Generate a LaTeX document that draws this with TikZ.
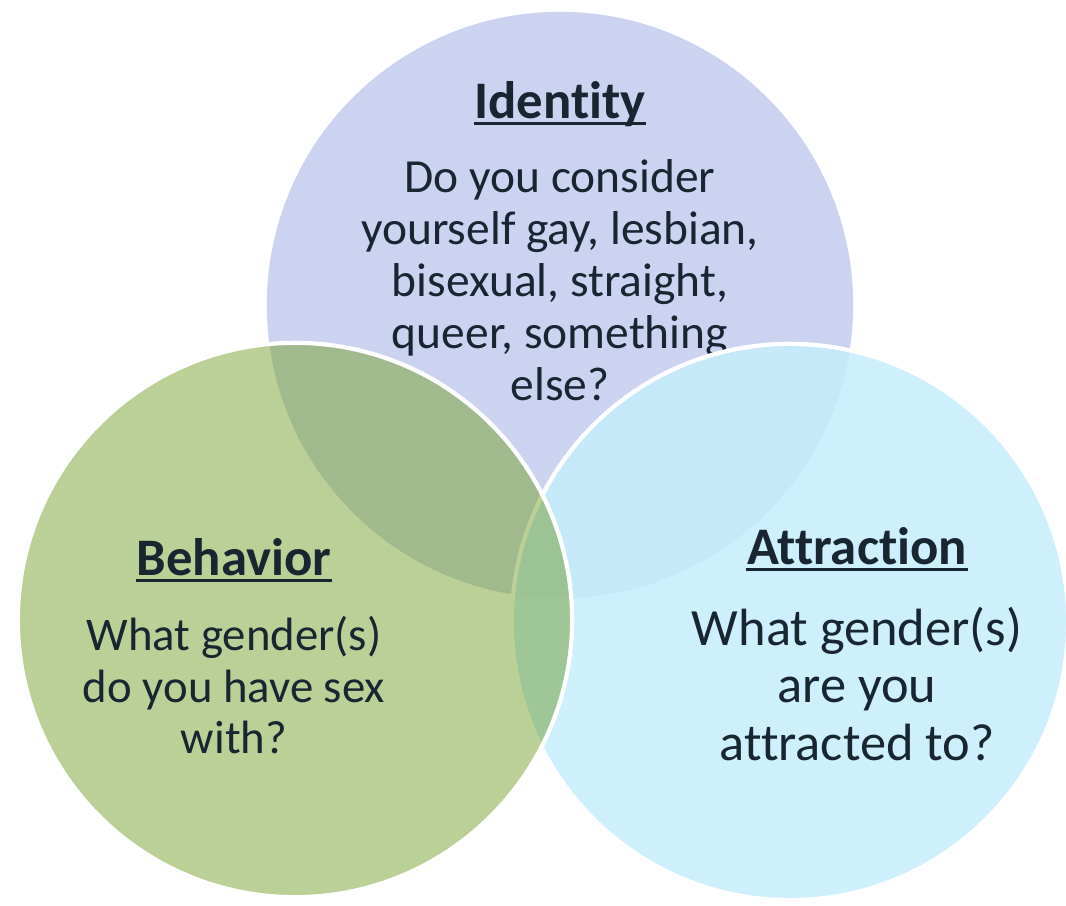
\documentclass[tikz,border=0pt]{standalone}
\usepackage{fontspec}
\setmainfont{Carlito}[Ligatures={NoCommon,NoContextual}]
\usetikzlibrary{positioning}

\definecolor{identityfill}{RGB}{203,211,241}
\definecolor{attractfill}{RGB}{206,239,252}
\definecolor{behavefill}{RGB}{187,208,151}
\definecolor{idattract}{RGB}{198,233,250}
\definecolor{idbehave}{RGB}{160,186,142}
\definecolor{behattract}{RGB}{158,198,150}
\definecolor{allthree}{RGB}{156,195,147}
\definecolor{ink}{RGB}{24,38,50}

\def\identitycircle{(560,305) circle [radius=2.93cm]}
\def\behavecircle{(295,620) circle [radius=2.77cm]}
\def\attractcircle{(790,622) circle [radius=2.78cm]}

\begin{document}
\begin{tikzpicture}[x=0.01cm, y=-0.01cm,
    ring/.style={draw=white, line width=1.2pt},
    heading/.style={anchor=base, inner sep=0pt, text=ink,
                    font=\fontsize{15}{18}\selectfont\bfseries},
    question/.style={anchor=north, inner sep=0pt, align=center, text=ink},
    headrule/.style={draw=ink, line width=0.9pt}]
\useasboundingbox (0,0) rectangle (1066,906);

% Identity
\fill[identityfill] \identitycircle;
\node[heading] (idtitle) at (560,118) {Identity};
\draw[headrule] ([yshift=-1.6pt]idtitle.base west) -- ([yshift=-1.6pt]idtitle.base east);
\node[question, font=\fontsize{13.5}{14.8}\selectfont] (idtext) at (560,159)
    {Do you consider\\yourself gay, lesbian,\\bisexual, straight,\\queer, something\\else?};

% Attraction
\fill[attractfill] \attractcircle;
\begin{scope}
    \clip \attractcircle;
    \fill[idattract] \identitycircle;
\end{scope}
\draw[ring] \attractcircle;

% Behavior
\fill[behavefill] \behavecircle;
\begin{scope}
    \clip \behavecircle;
    \fill[idbehave] \identitycircle;
    \fill[behattract] \attractcircle;
    \clip \identitycircle;
    \fill[allthree] \attractcircle;
\end{scope}
\begin{scope}
    \clip \behavecircle;
    \draw[ring, draw=behavefill] \attractcircle;
\end{scope}
\draw[ring] \behavecircle;

\node[heading] (behtitle) at (234,575) {Behavior};
\draw[headrule] ([yshift=-1.6pt]behtitle.base west) -- ([yshift=-1.6pt]behtitle.base east);
\node[question, font=\fontsize{13.3}{14.6}\selectfont] (behtext) at (234,616)
    {What gender(s)\\do you have sex\\with?};

\node[heading] (attitle) at (857,564) {Attraction};
\draw[headrule] ([yshift=-1.6pt]attitle.base west) -- ([yshift=-1.6pt]attitle.base east);
\node[question, font=\fontsize{14.9}{16.4}\selectfont] (attext) at (857,606)
    {What gender(s)\\are you\\attracted to?};
\end{tikzpicture}
\end{document}
